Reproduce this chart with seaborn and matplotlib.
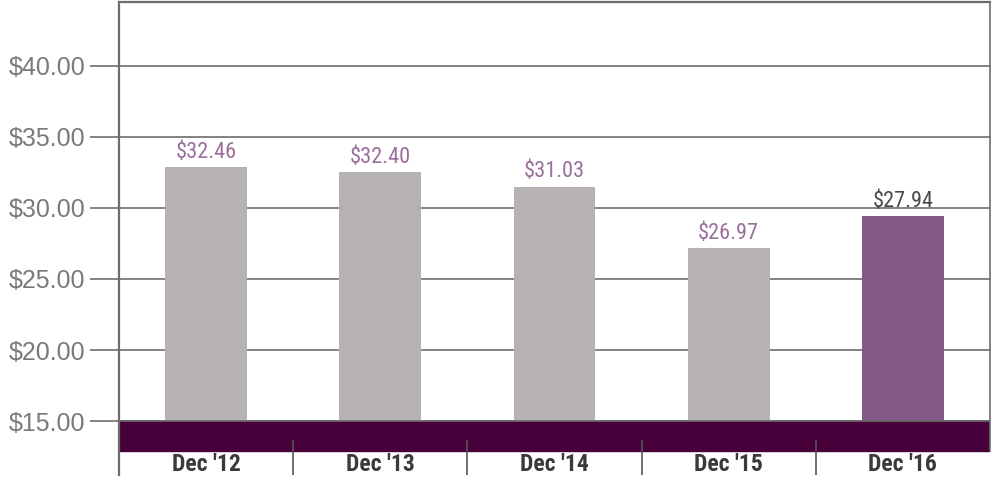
import numpy as np
import pandas as pd
import seaborn as sns
import matplotlib.pyplot as plt
from matplotlib import font_manager

# datos
categorias = ["Dec '12", "Dec '13", "Dec '14", "Dec '15", "Dec '16"]
alturas = [32.9, 32.55, 31.5, 27.2, 29.45]      # altura visible de cada barra
etiquetas = ["$32.46", "$32.40", "$31.03", "$26.97", "$27.94"]
ticks_y = [15, 20, 25, 30, 35, 40]
colores = ["#b6b2b1", "#b6b2b1", "#b6b2b1", "#b6b2b1", "#835a87"]
color_etiquetas = ["#9b6e9b", "#9b6e9b", "#9b6e9b", "#9b6e9b", "#4a4a4a"]

df = pd.DataFrame({"mes": categorias, "precio": alturas})

# buscar una fuente estrecha si hay alguna instalada
nombres = sorted({f.name for f in font_manager.fontManager.ttflist})
estrecha = None
for cand in ["Liberation Sans Narrow", "Roboto Condensed", "Open Sans Condensed",
             "DejaVu Sans Condensed", "Noto Sans Condensed"]:
    if cand in nombres:
        estrecha = cand
        break
if estrecha is None:
    otras = [n for n in nombres if "Narrow" in n or "Condensed" in n]
    estrecha = otras[0] if otras else "Liberation Sans"

sns.set_style("white")
plt.rcParams["font.family"] = ["Liberation Sans", "DejaVu Sans"]

fig = plt.figure(figsize=(9.92, 4.87), dpi=100)
ax = fig.add_axes([119 / 992, 12 / 487, 871 / 992, 473 / 487])

sns.barplot(data=df, x="mes", y="precio", hue="mes", palette=colores,
            legend=False, width=0.47, saturation=1, linewidth=0, ax=ax, zorder=2)

y_min, y_max = 11.2, 44.5
banda_baja = 12.87
ax.set_ylim(y_min, y_max)
ax.set_xlim(-0.5, 4.5)

# rejilla horizontal
ax.set_yticks(ticks_y)
ax.set_yticklabels([f"${t:.2f}" for t in ticks_y])
ax.yaxis.grid(True, color="#6d6d6d", lw=1.2, zorder=1)
ax.set_axisbelow(True)
ax.tick_params(axis="y", length=21, width=1.2, color="#6d6d6d", pad=3,
               labelsize=18, labelcolor="#7a7a7a", left=True)

# banda oscura y blanco debajo
ax.axhspan(y_min, banda_baja, color="white", zorder=3)
ax.axhspan(banda_baja, 15, color="#48003a", zorder=4)
ax.axhline(15, color="#6d6d6d", lw=1.2, zorder=5)

# separadores entre categorias
ax.vlines([0.5, 1.5, 2.5, 3.5], y_min, 13.66, color="#555555", lw=1.2, zorder=6)

# etiquetas de valor
for i, (h, txt) in enumerate(zip(alturas, etiquetas)):
    ax.annotate(txt, (i, h), xytext=(0, 3), textcoords="offset points",
                ha="center", va="bottom", fontsize=16,
                color=color_etiquetas[i], family=[estrecha, "DejaVu Sans"])

# etiquetas del eje x dentro de la zona inferior
ax.set_xticks([])
ax.set_xlabel("")
ax.set_ylabel("")
for i, c in enumerate(categorias):
    ax.text(i, 11.95, c, ha="center", va="center", fontsize=17,
            fontweight="bold", color="#3a3a3a",
            family=[estrecha, "DejaVu Sans"], zorder=7)

# bordes
for s in ["left", "top", "right"]:
    ax.spines[s].set_visible(True)
    ax.spines[s].set_color("#6d6d6d")
ax.spines["left"].set_linewidth(1.6)
ax.spines["top"].set_linewidth(1.6)
ax.spines["right"].set_linewidth(1.2)
ax.spines["right"].set_bounds(banda_baja, y_max)
ax.spines["bottom"].set_visible(False)
for s in ax.spines.values():
    s.set_zorder(8)

fig.savefig("out.png", dpi=100)
